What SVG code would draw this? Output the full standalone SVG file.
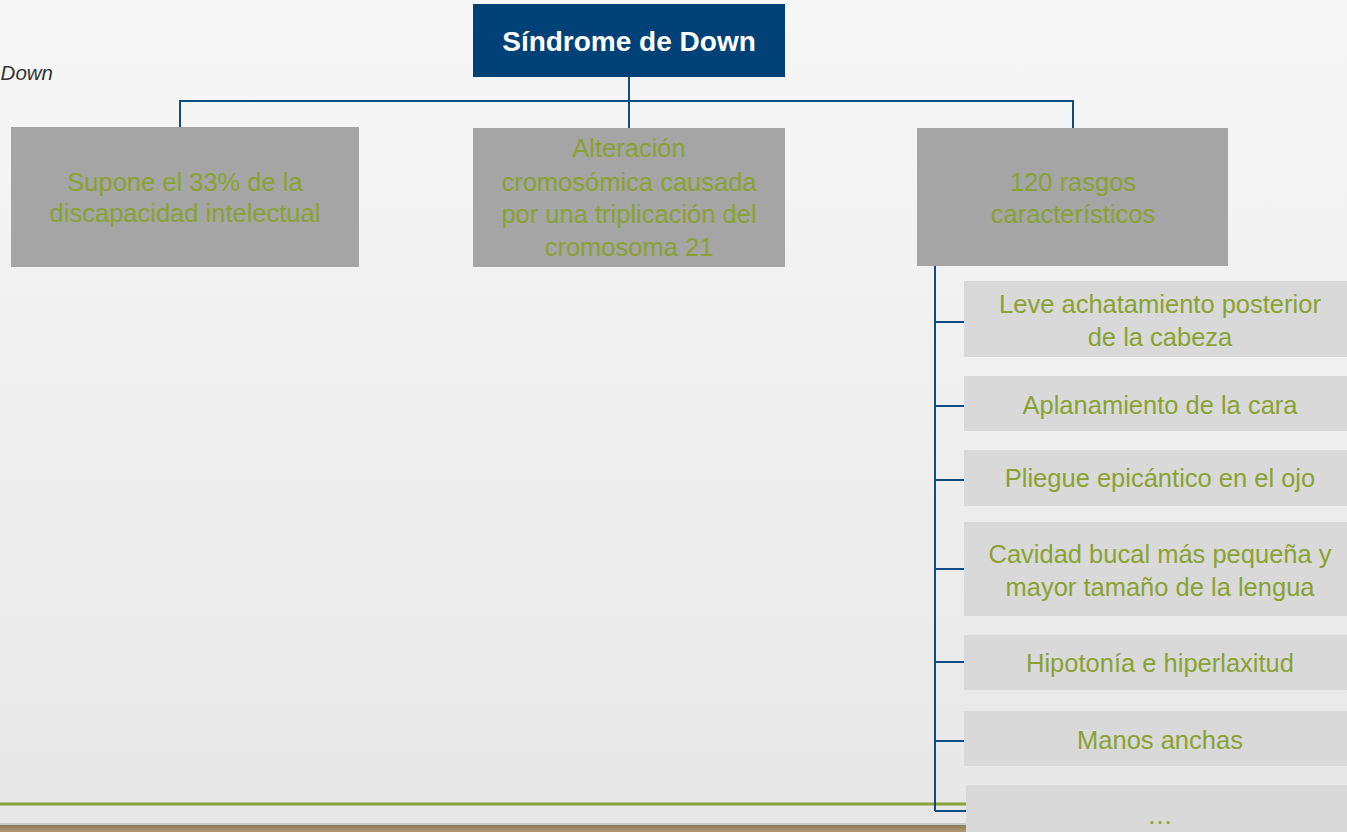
<svg xmlns="http://www.w3.org/2000/svg" width="1347" height="832" viewBox="0 0 1347 832">
<defs>
<linearGradient id="bg" x1="0" y1="0" x2="0" y2="1">
<stop offset="0" stop-color="#F7F7F7"/>
<stop offset="1" stop-color="#E7E7E7"/>
</linearGradient>
<linearGradient id="wood" x1="0" y1="0" x2="0" y2="1">
<stop offset="0" stop-color="#8C7A5C"/>
<stop offset="1" stop-color="#B09A72"/>
</linearGradient>
<style>
.lvl1{fill:#A5A5A5}
.lvl2{fill:#D9D9D9}
.t{font-family:"Liberation Sans","Open Sans",Arial,sans-serif;font-size:25.5px;fill:#89A232;text-anchor:middle}
.conn{stroke:#0F4C81;stroke-width:2;fill:none}
</style>
</defs>
<rect x="0" y="0" width="1347" height="832" fill="url(#bg)"/>
<line x1="0" y1="804" x2="1347" y2="804" stroke="#8AA13A" stroke-width="3"/>
<rect x="0" y="823" width="1347" height="2" fill="#C8C8C8"/>
<rect x="0" y="825" width="1347" height="7" fill="url(#wood)"/>
<text x="53" y="80" font-family="'Liberation Sans','Open Sans',sans-serif" font-size="20.5" font-style="italic" fill="#333333" text-anchor="end">Down</text>

<g id="connectors">
<path class="conn" d="M629 77 V128 M180 127 V101 H1073 V128"/>
<path class="conn" d="M935 266 V811 M935 322 H964 M935 406 H964 M935 480 H964 M935 569 H964 M935 662 H964 M935 741 H964 M935 811 H966"/>
</g>

<g id="root">
<rect x="473" y="4" width="312" height="73" fill="#004277"/>
<text x="629" y="51" font-family="'Liberation Sans','Open Sans',Arial,sans-serif" font-size="28" font-weight="bold" fill="#FFFFFF" text-anchor="middle">Síndrome de Down</text>
</g>

<g id="n-supone">
<rect class="lvl1" x="11" y="127" width="348" height="140"/>
<text class="t" x="185" y="191">Supone el 33% de la</text>
<text class="t" x="185" y="222">discapacidad intelectual</text>
</g>

<g id="n-alteracion">
<rect class="lvl1" x="473" y="128" width="312" height="139"/>
<text class="t" x="629" y="157">Alteración</text>
<text class="t" x="629" y="191">cromosómica causada</text>
<text class="t" x="629" y="223">por una triplicación del</text>
<text class="t" x="629" y="256">cromosoma 21</text>
</g>

<g id="n-rasgos">
<rect class="lvl1" x="917" y="128" width="311" height="138"/>
<text class="t" x="1073" y="191">120 rasgos</text>
<text class="t" x="1073" y="223">característicos</text>
</g>

<g id="c1">
<rect class="lvl2" x="964" y="281" width="383" height="76"/>
<text class="t" x="1160" y="313">Leve achatamiento posterior</text>
<text class="t" x="1160" y="346">de la cabeza</text>
</g>
<g id="c2">
<rect class="lvl2" x="964" y="376" width="383" height="55"/>
<text class="t" x="1160" y="414">Aplanamiento de la cara</text>
</g>
<g id="c3">
<rect class="lvl2" x="964" y="450" width="383" height="56"/>
<text class="t" x="1160" y="487">Pliegue epicántico en el ojo</text>
</g>
<g id="c4">
<rect class="lvl2" x="964" y="522" width="383" height="94"/>
<text class="t" x="1160" y="563">Cavidad bucal más pequeña y</text>
<text class="t" x="1160" y="596">mayor tamaño de la lengua</text>
</g>
<g id="c5">
<rect class="lvl2" x="964" y="635" width="383" height="55"/>
<text class="t" x="1160" y="672">Hipotonía e hiperlaxitud</text>
</g>
<g id="c6">
<rect class="lvl2" x="964" y="711" width="383" height="55"/>
<text class="t" x="1160" y="749">Manos anchas</text>
</g>
<g id="c7">
<rect class="lvl2" x="966" y="785" width="381" height="47"/>
<text class="t" x="1160" y="824">…</text>
</g>
</svg>
